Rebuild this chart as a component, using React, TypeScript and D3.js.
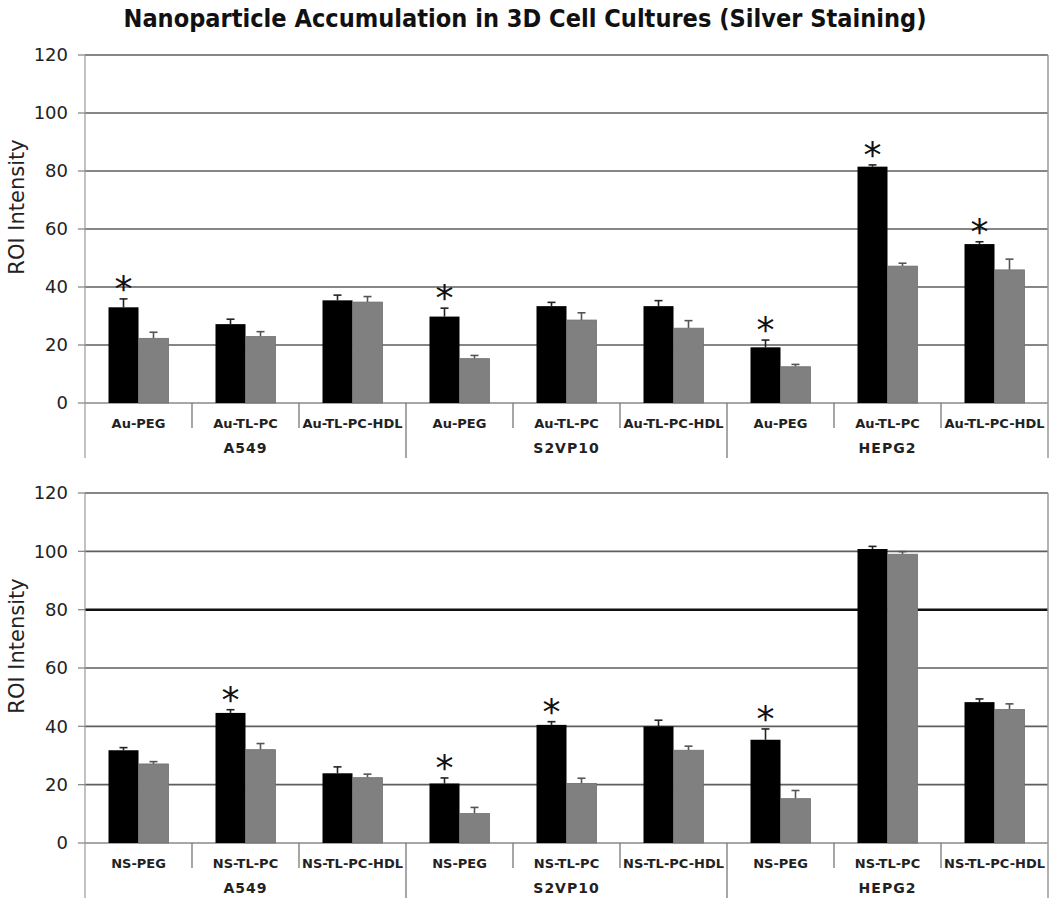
import React from "react";
import * as d3 from "d3";

const groups = ["A549", "S2VP10", "HEPG2"];
const topCats = ["Au-PEG", "Au-TL-PC", "Au-TL-PC-HDL"];
const bottomCats = ["NS-PEG", "NS-TL-PC", "NS-TL-PC-HDL"];
const yTicks = [0, 20, 40, 60, 80, 100, 120];

const topBlack = [33.0, 27.2, 35.4, 29.8, 33.4, 33.4, 19.2, 81.5, 54.8];
const topBlackErr = [2.9, 1.7, 1.8, 2.9, 1.3, 1.9, 2.5, 0.6, 0.8];
const topGrey = [22.3, 22.9, 34.8, 15.3, 28.6, 25.8, 12.5, 47.2, 45.9];
const topGreyErr = [2.1, 1.7, 1.9, 1.1, 2.5, 2.6, 0.8, 1.0, 3.7];
const topStars = [true, false, false, true, false, false, true, true, true];

const botBlack = [31.8, 44.6, 23.9, 20.4, 40.5, 40.0, 35.4, 100.8, 48.3];
const botBlackErr = [0.9, 1.1, 2.2, 1.9, 1.1, 2.1, 3.7, 0.9, 1.1];
const botGrey = [27.1, 32.0, 22.4, 10.1, 20.4, 31.8, 15.2, 99.0, 45.8];
const botGreyErr = [0.8, 2.1, 1.2, 2.1, 1.8, 1.4, 2.8, 0.9, 1.9];
const botStars = [false, true, false, true, true, false, true, false, false];

const X0 = 85;
const X1 = 1048;
const FONT = "'DejaVu Sans', Verdana, sans-serif";

type PanelProps = {
  top: number;
  bottom: number;
  cats: string[];
  black: number[];
  blackErr: number[];
  grey: number[];
  greyErr: number[];
  stars: boolean[];
  thickLine?: number;
};

function Panel(p: PanelProps) {
  const labels: string[] = [];
  groups.forEach((g) => p.cats.forEach((c) => labels.push(g + "|" + c)));
  const x = d3.scaleBand<string>().domain(labels).range([X0, X1]).paddingInner(0).paddingOuter(0);
  const y = d3.scaleLinear().domain([0, 120]).range([p.bottom, p.top]);
  const bw = x.bandwidth();
  const barW = 30;
  const subTickEnd = y(0) + 25;
  const groupTickEnd = y(0) + 55;
  return (
    <g>
      {yTicks.filter((t) => t > 0).map((t) => (
        <line
          key={"g" + t}
          x1={X0}
          x2={X1}
          y1={y(t)}
          y2={y(t)}
          stroke={p.thickLine === t ? "#111" : "#5e5e5e"}
          strokeWidth={p.thickLine === t ? 2.5 : 1.6}
        />
      ))}
      <line x1={X0} x2={X1} y1={y(0)} y2={y(0)} stroke="#8a8a8a" strokeWidth={1.5} />
      <line x1={X0} x2={X0} y1={y(120)} y2={groupTickEnd} stroke="#9a9a9a" strokeWidth={1.2} />
      <line x1={X1} x2={X1} y1={y(120)} y2={groupTickEnd} stroke="#9a9a9a" strokeWidth={1.5} />
      {yTicks.map((t) => (
        <g key={"t" + t}>
          <line x1={X0 - 7} x2={X0} y1={y(t)} y2={y(t)} stroke="#8a8a8a" strokeWidth={1.3} />
          <text x={68} y={y(t)} dy="0.36em" textAnchor="end" fontSize={18} fontFamily={FONT} fill="#222">
            {t}
          </text>
        </g>
      ))}
      <text
        transform={`translate(24,${(y(0) + y(120)) / 2 - 22}) rotate(-90)`}
        textAnchor="middle"
        fontSize={21}
        fontFamily={FONT}
        fill="#222"
      >
        ROI Intensity
      </text>
      {d3.range(1, labels.length).map((i) => {
        const xx = X0 + i * bw;
        const isGroup = i % 3 === 0;
        return (
          <line
            key={"s" + i}
            x1={xx}
            x2={xx}
            y1={y(0)}
            y2={isGroup ? groupTickEnd : subTickEnd}
            stroke="#777"
            strokeWidth={1.3}
          />
        );
      })}
      {labels.map((l, i) => {
        const cx = (x(l) as number) + bw / 2;
        const bTop = y(p.black[i]);
        const gTop = y(p.grey[i]);
        const bErr = y(p.black[i] + p.blackErr[i]);
        const gErr = y(p.grey[i] + p.greyErr[i]);
        return (
          <g key={"b" + i}>
            <line x1={cx - barW / 2} x2={cx - barW / 2} y1={bTop} y2={bErr} stroke="#222" strokeWidth={1.6} />
            <line x1={cx - barW / 2 - 4} x2={cx - barW / 2 + 4} y1={bErr} y2={bErr} stroke="#222" strokeWidth={1.6} />
            <line x1={cx + barW / 2} x2={cx + barW / 2} y1={gTop} y2={gErr} stroke="#555" strokeWidth={1.6} />
            <line x1={cx + barW / 2 - 4} x2={cx + barW / 2 + 4} y1={gErr} y2={gErr} stroke="#555" strokeWidth={1.6} />
            <rect x={cx - barW} y={bTop} width={barW} height={y(0) - bTop} fill="#000" />
            <rect x={cx} y={gTop} width={barW} height={y(0) - gTop} fill="#808080" stroke="#6f6f6f" strokeWidth={0.8} />
            {p.stars[i] && (
              <text x={cx - barW / 2} y={bErr + 2} textAnchor="middle" fontSize={36} fontFamily={FONT} fill="#111">
                *
              </text>
            )}
            <text
              x={cx}
              y={y(0) + 25}
              textAnchor="middle"
              fontSize={13}
              fontWeight="bold"
              fontFamily={FONT}
              fill="#222"
            >
              {l.split("|")[1]}
            </text>
          </g>
        );
      })}
      {groups.map((g, gi) => (
        <text
          key={"gl" + g}
          x={X0 + (gi * 3 + 1.5) * bw}
          y={y(0) + 50}
          textAnchor="middle"
          fontSize={14}
          fontWeight="bold"
          fontFamily={FONT}
          fill="#222"
          letterSpacing={1}
        >
          {g}
        </text>
      ))}
    </g>
  );
}

export default function App() {
  return (
    <svg width={1050} height={899} style={{ position: "absolute", left: 0, top: 0, background: "#fff" }}>
      <rect x={0} y={0} width={1050} height={899} fill="#fff" />
      <text
        x={525}
        y={27}
        textAnchor="middle"
        fontSize={25}
        fontWeight="bold"
        fontFamily="'DejaVu Sans Condensed', 'DejaVu Sans', sans-serif"
        fontStretch="condensed"
        textLength={803}
        lengthAdjust="spacingAndGlyphs"
        fill="#111"
      >
        Nanoparticle Accumulation in 3D Cell Cultures (Silver Staining)
      </text>
      <Panel
        top={55}
        bottom={403}
        cats={topCats}
        black={topBlack}
        blackErr={topBlackErr}
        grey={topGrey}
        greyErr={topGreyErr}
        stars={topStars}
      />
      <Panel
        top={493}
        bottom={843}
        cats={bottomCats}
        black={botBlack}
        blackErr={botBlackErr}
        grey={botGrey}
        greyErr={botGreyErr}
        stars={botStars}
        thickLine={80}
      />
    </svg>
  );
}
